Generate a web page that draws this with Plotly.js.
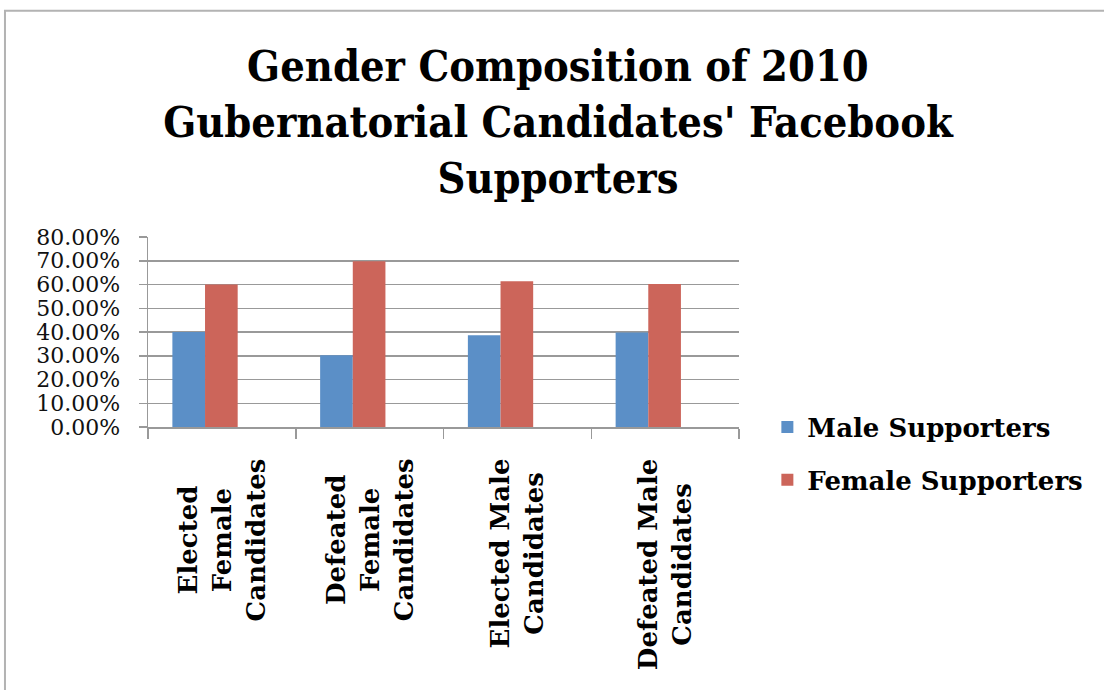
<!DOCTYPE html>
<html>
<head>
<meta charset="utf-8">
<script src="https://cdn.plot.ly/plotly-3.0.1.min.js"></script>
<style>html,body{margin:0;padding:0;background:#fff;}#chart{width:1104px;height:690px;}</style>
</head>
<body>
<div id="chart"></div>
<script>
var categories = ['Elected Female Candidates', 'Defeated Female Candidates', 'Elected Male Candidates', 'Defeated Male Candidates'];
var tickLabels = ['Elected<br>Female<br>Candidates', 'Defeated<br>Female<br>Candidates', 'Elected Male<br>Candidates', 'Defeated Male<br>Candidates'];
var maleSupporters = [0.400, 0.302, 0.386, 0.398];
var femaleSupporters = [0.600, 0.698, 0.614, 0.602];
var seriesNames = ['Male Supporters', 'Female Supporters'];
var yTickValues = [0, 0.1, 0.2, 0.3, 0.4, 0.5, 0.6, 0.7, 0.8];
var titleText = "Gender Composition of 2010<br>Gubernatorial Candidates' Facebook<br>Supporters";

var gridColor = '#999999';

var traces = [
  {type: 'bar', name: seriesNames[0], x: categories, y: maleSupporters,
   width: 0.221, offset: -0.335, marker: {color: '#5B8FC7', line: {width: 0}},
   legendgroup: 'm', hoverinfo: 'skip'},
  {type: 'bar', name: seriesNames[1], x: categories, y: femaleSupporters,
   width: 0.221, offset: -0.114, marker: {color: '#CC655A', line: {width: 0}},
   legendgroup: 'f', hoverinfo: 'skip'}
];

var annotations = categories.map(function (c, i) {
  return {
    x: c, xref: 'x', y: 0, yref: 'paper', yanchor: 'top', xanchor: 'center',
    yshift: -29, text: '<b>' + tickLabels[i] + '</b>', textangle: -90,
    showarrow: false, align: 'center',
    font: {family: 'DejaVu Serif', size: 26, color: '#000'}
  };
});

var layout = {
  width: 1104, height: 690,
  margin: {l: 148, r: 365, t: 237, b: 263, pad: 0},
  paper_bgcolor: '#fff', plot_bgcolor: '#fff',
  title: {
    text: '<b>' + titleText + '</b>',
    x: 0.5054, xref: 'container', xanchor: 'center',
    y: 0.883, yref: 'container', yanchor: 'middle',
    font: {family: 'DejaVu Serif Condensed, DejaVu Serif', size: 43, color: '#000'}
  },
  barmode: 'overlay',
  xaxis: {
    type: 'category', showticklabels: false, tickson: 'boundaries',
    ticks: 'outside', ticklen: 10, tickwidth: 1.5, tickcolor: gridColor,
    showline: true, linecolor: gridColor, linewidth: 1.5,
    showgrid: false, zeroline: false, fixedrange: true
  },
  yaxis: {
    range: [0, 0.8], tickvals: yTickValues, tickformat: '.2%',
    ticks: 'outside', ticklen: 8, tickwidth: 1.5, tickcolor: gridColor,
    ticklabelstandoff: 14,
    showline: true, linecolor: gridColor, linewidth: 1.5,
    showgrid: true, gridcolor: gridColor, gridwidth: 1.5,
    zeroline: false, fixedrange: true,
    tickfont: {family: 'DejaVu Serif', size: 22, color: '#111'}
  },
  showlegend: true,
  legend: {
    x: 1.048, xanchor: 'left', y: -0.14, yanchor: 'middle',
    traceorder: 'grouped', tracegroupgap: 16,
    font: {family: 'DejaVu Serif', size: 26, color: '#000'},
    bgcolor: 'rgba(0,0,0,0)', borderwidth: 0
  },
  annotations: annotations,
  shapes: [{
    type: 'rect', xref: 'paper', yref: 'paper',
    x0: -0.242, x1: 1.63, y0: -1.44, y1: 2.191,
    line: {color: '#b3b3b3', width: 2}, fillcolor: 'rgba(0,0,0,0)', layer: 'above'
  }]
};

traces.forEach(function (t) { t.name = '<b>' + t.name + '</b>'; });

Plotly.newPlot('chart', traces, layout, {displayModeBar: false, staticPlot: true});
</script>
</body>
</html>
